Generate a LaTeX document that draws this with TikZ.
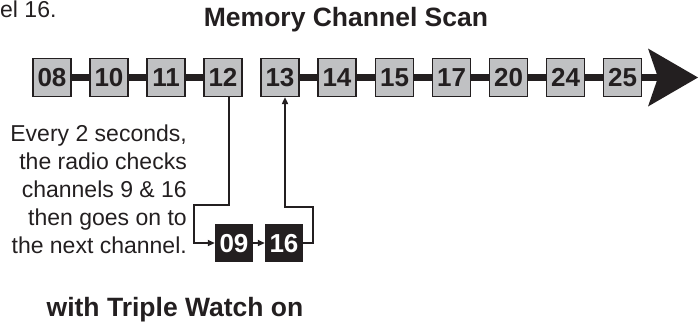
\documentclass[tikz,border=0pt]{standalone}
\usepackage{fontspec}
\setmainfont{Liberation Sans}
\usetikzlibrary{arrows.meta}
\definecolor{chgray}{RGB}{192,193,195}
\definecolor{ink}{RGB}{35,31,32}

\begin{document}
\begin{tikzpicture}[x=1pt, y=-1pt,
    chanbox/.style={draw=ink, fill=chgray, line width=1.2pt, minimum size=38pt, inner sep=0pt, text height=18.6pt, text depth=0pt, text=ink, font=\fontsize{26}{26}\selectfont\bfseries},
    watchbox/.style={fill=ink, minimum size=38pt, inner sep=0pt, text height=18.6pt, text depth=0pt, text=white, font=\fontsize{26}{26}\selectfont\bfseries},
    bar/.style={draw=ink, line width=7pt},
    link/.style={draw=ink, line width=1.8pt, -{Triangle[length=7pt, width=6pt]}},
    heading/.style={text=ink, font=\fontsize{26.5}{26.5}\selectfont\bfseries},
    note/.style={text=ink, inner sep=0pt, font=\fontsize{23}{28}\selectfont},
    ]
\useasboundingbox (0,0) rectangle (699,325);

% Scan row
\node[chanbox] (n08) at (52,77.5) {08};
\node[chanbox] (n10) at (109,77.5) {10};
\node[chanbox] (n11) at (166,77.5) {11};
\node[chanbox] (n12) at (223,77.5) {12};
\node[chanbox] (n13) at (280,77.5) {13};
\node[chanbox] (n14) at (337,77.5) {14};
\node[chanbox] (n15) at (394.5,77.5) {15};
\node[chanbox] (n17) at (451.5,77.5) {17};
\node[chanbox] (n20) at (508.5,77.5) {20};
\node[chanbox] (n24) at (565.5,77.5) {24};
\node[chanbox] (n25) at (622.5,77.5) {25};
\coordinate (tip) at (698,77.5);

% Watch channels
\node[watchbox] (n09) at (234,243) {09};
\node[watchbox] (n16) at (284,243) {16};

% Texts
\node[heading] (title) at (346,20) {Memory Channel Scan};
\node[heading] (mode) at (175,310) {with Triple Watch on};
\node[note, anchor=base west] (prev) at (0,17.5) {el 16.};
\node[note, align=right, anchor=base east] (info) at (187,253) {Every 2 seconds,\\ the radio checks\\ channels 9 \& 16\\ then goes on to\\ the next channel.};

% Bars between channels
\foreach \a/\b in {08/10,10/11,11/12,13/14,14/15,15/17,17/20,20/24,24/25} {
    \draw[bar] (n\a) -- (n\b);
}
\draw[bar, -{Stealth[length=50pt, width=58pt, inset=10pt, line width=0pt]}] (n25) -- (tip);

% Jump to the watch channels and back
\draw[link] ([xshift=6pt]n12.south) -- ++(0,108) -| ([xshift=-21pt]n09.west) -- (n09.west);
\draw[link] (n09) -- (n16);
\draw[link] (n16.east) -- ++(10,0) -- ++(0,-36) -| ([xshift=5pt]n13.south);

\end{tikzpicture}
\end{document}
